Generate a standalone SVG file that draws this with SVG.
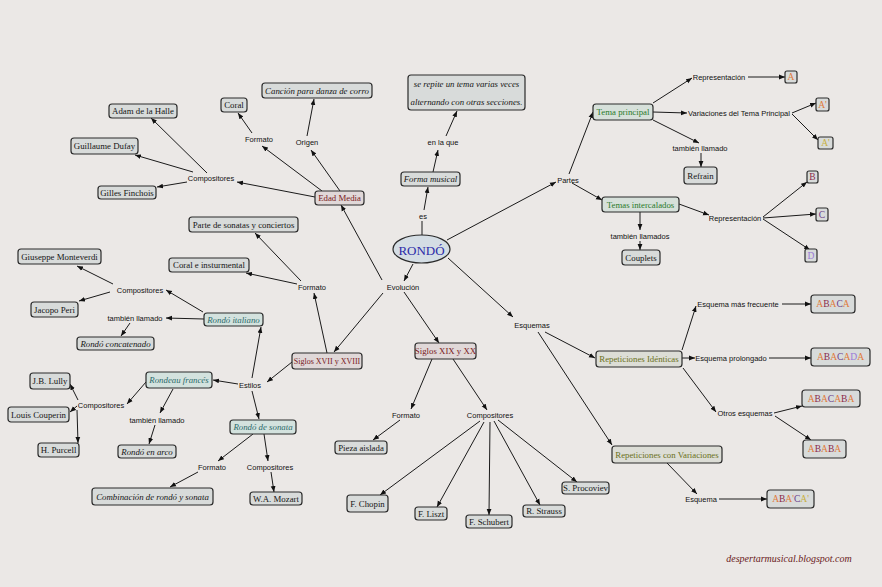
<svg xmlns="http://www.w3.org/2000/svg" width="882" height="587" viewBox="0 0 882 587">
<defs>
<marker id="a" viewBox="0 0 10 10" refX="10" refY="5" markerWidth="6" markerHeight="6" orient="auto" markerUnits="userSpaceOnUse"><path d="M0,1 L10,5 L0,9 z" fill="#111"/></marker>
<style>
.n rect{fill:#d8dbda;stroke:#2a2a2a;stroke-width:1.2}
.r rect{fill:#e0d8d8}
.tl rect{fill:#d3e2de}
.g rect{fill:#d6e0da}
.o rect{fill:#dcddd6}
.n text{font-family:"Liberation Serif",serif;font-size:8.8px;fill:#151515;text-anchor:middle;dominant-baseline:central}
.i text{font-style:italic}
.r text{fill:#7a1a22}
.tl text{fill:#2a6a6a}
.g text{fill:#2a7a2a}
.o text{fill:#6a7020}
.l text{font-family:"Liberation Sans",Arial,sans-serif;font-size:7.5px;fill:#111;text-anchor:middle;dominant-baseline:central}
.c path{fill:none;stroke:#1a1a1a;stroke-width:1}
.c .m{marker-end:url(#a)}
.n.sq text{font-size:9.5px}
.sq .cA{fill:#e07a3a}.sq .cB{fill:#8b2a4a}.sq .cC{fill:#6a3a8a}.sq .cD{fill:#9a7ad8}.sq .cY{fill:#c8b040}
</style>
</defs>
<rect width="882" height="587" fill="#ebe8e6"/>

<g id="connectors" class="c">
<path d="M422,235 L422,221"/>
<path class="m" d="M424,210 L428,187"/>
<path class="m" d="M433,172 L438,150"/>
<path class="m" d="M446,136 L457,111"/>
<path class="m" d="M340,191 L311,150"/>
<path class="m" d="M307,136 L314,99"/>
<path class="m" d="M322,191 L262,146"/>
<path class="m" d="M252,133 L238,113"/>
<path class="m" d="M315,197 L237,182"/>
<path class="m" d="M207,173 L151,118"/>
<path class="m" d="M193,172 L135,155"/>
<path class="m" d="M187,182 L157,187"/>
<path class="m" d="M413,264 L404,281"/>
<path class="m" d="M382,280 L341,205"/>
<path class="m" d="M383,293 L334,352"/>
<path class="m" d="M404,292 L439,343"/>
<path class="m" d="M327,353 L314,293"/>
<path class="m" d="M301,281 L255,233"/>
<path class="m" d="M297,284 L246,273"/>
<path class="m" d="M292,362 L267,382"/>
<path class="m" d="M252,378 L261,327"/>
<path class="m" d="M238,384 L213,380"/>
<path class="m" d="M252,391 L259,419"/>
<path class="m" d="M203,312 L166,290"/>
<path class="m" d="M113,284 L77,266"/>
<path class="m" d="M110,292 L79,301"/>
<path class="m" d="M204,319 L166,318"/>
<path class="m" d="M130,323 L121,336"/>
<path class="m" d="M146,382 L127,404"/>
<path class="m" d="M78,400 L70,384"/>
<path class="m" d="M77,406 L70,412"/>
<path class="m" d="M77,410 L78,443"/>
<path class="m" d="M173,389 L160,413"/>
<path class="m" d="M155,425 L149,444"/>
<path class="m" d="M253,434 L218,461"/>
<path class="m" d="M198,472 L170,487"/>
<path class="m" d="M264,434 L268,461"/>
<path class="m" d="M271,472 L274,492"/>
<path class="m" d="M432,359 L411,409"/>
<path class="m" d="M400,420 L373,440"/>
<path class="m" d="M453,359 L487,410"/>
<path class="m" d="M480,421 L380,495"/>
<path class="m" d="M484,422 L437,507"/>
<path class="m" d="M490,422 L489,515"/>
<path class="m" d="M494,421 L540,505"/>
<path class="m" d="M498,420 L577,482"/>
<path class="m" d="M448,258 L513,317"/>
<path class="m" d="M545,332 L595,358"/>
<path class="m" d="M538,332 L612,445"/>
<path class="m" d="M682,350 L696,306"/>
<path class="m" d="M782,304 L811,304"/>
<path class="m" d="M682,358 L695,358"/>
<path class="m" d="M769,358 L811,358"/>
<path class="m" d="M683,368 L716,412"/>
<path class="m" d="M774,413 L802,406"/>
<path class="m" d="M775,416 L811,440"/>
<path class="m" d="M667,463 L697,494"/>
<path class="m" d="M719,499 L767,499"/>
<path class="m" d="M447,240 L556,182"/>
<path class="m" d="M569,174 L593,112"/>
<path class="m" d="M572,183 L602,200"/>
<path class="m" d="M653,103 L692,78"/>
<path class="m" d="M748,77 L785,77"/>
<path class="m" d="M653,112 L687,113"/>
<path class="m" d="M792,113 L816,103"/>
<path class="m" d="M792,114 L818,140"/>
<path class="m" d="M653,120 L699,143"/>
<path class="m" d="M701,153 L701,167"/>
<path class="m" d="M679,204 L709,215"/>
<path class="m" d="M763,217 L807,182"/>
<path class="m" d="M763,218 L816,214"/>
<path class="m" d="M763,219 L810,250"/>
<path class="m" d="M640,212 L640,230"/>
<path class="m" d="M640,241 L640,250"/>
</g>

<g id="rondo"><ellipse cx="421.5" cy="249" rx="28.5" ry="14" fill="#d4dde4" stroke="#2a2a2a" stroke-width="1.2"/><text x="421.5" y="250" font-family="Liberation Serif,serif" font-size="13" fill="#2b2ba8" text-anchor="middle" dominant-baseline="central">RONDÓ</text></g>

<g id="forma-musical" class="n i"><rect x="401" y="172" width="59" height="14" rx="3"/><text x="430.5" y="179">Forma musical</text></g>
<g id="definicion" class="n i"><rect x="408" y="75" width="117" height="35" rx="3"/><text x="466.5" y="84">se repite un tema varias veces</text><text x="466.5" y="102">alternando con otras secciones.</text></g>
<g id="edad-media" class="n r"><rect x="315" y="191" width="49" height="14" rx="3"/><text x="339.5" y="198">Edad Media</text></g>
<g id="coral" class="n"><rect x="221" y="98" width="26" height="14" rx="3"/><text x="234" y="105">Coral</text></g>
<g id="cancion" class="n i"><rect x="262" y="83" width="110" height="15" rx="3"/><text x="317" y="90.5">Canción para danza de corro</text></g>
<g id="adam" class="n"><rect x="109" y="104" width="68" height="14" rx="3"/><text x="143" y="111">Adam de la Halle</text></g>
<g id="dufay" class="n"><rect x="71" y="138" width="67" height="16" rx="3"/><text x="104.5" y="146">Guillaume Dufay</text></g>
<g id="finchois" class="n"><rect x="98" y="186" width="58" height="13" rx="3"/><text x="127" y="192.5">Gilles Finchois</text></g>
<g id="siglos-xvii" class="n r"><rect x="292" y="353" width="70" height="16" rx="3"/><text x="327" y="361" style="font-size:8px">Siglos XVII y XVIII</text></g>
<g id="siglos-xix" class="n r"><rect x="415" y="343" width="61" height="16" rx="3"/><text x="445.5" y="351">Siglos XIX y XX</text></g>
<g id="parte-sonatas" class="n"><rect x="189" y="217" width="109" height="15" rx="3"/><text x="243.5" y="224.5">Parte de sonatas y conciertos</text></g>
<g id="coral-instr" class="n"><rect x="169" y="258" width="80" height="14" rx="3"/><text x="209" y="265">Coral e insturmental</text></g>
<g id="rondo-italiano" class="n tl i"><rect x="204" y="313" width="59" height="13" rx="3"/><text x="233.5" y="319.5">Rondó italiano</text></g>
<g id="rondeau-frances" class="n tl i"><rect x="146" y="372" width="66" height="16" rx="3"/><text x="179" y="380">Rondeau francés</text></g>
<g id="rondo-sonata" class="n tl i"><rect x="230" y="420" width="66" height="14" rx="3"/><text x="263" y="427">Rondó de sonata</text></g>
<g id="monteverdi" class="n"><rect x="18" y="249" width="83" height="15" rx="3"/><text x="59.5" y="256.5">Giuseppe Monteverdi</text></g>
<g id="peri" class="n"><rect x="31" y="302" width="47" height="15" rx="3"/><text x="54.5" y="309.5">Jacopo Peri</text></g>
<g id="concatenado" class="n i"><rect x="77" y="337" width="77" height="13" rx="3"/><text x="115.5" y="343.5">Rondó concatenado</text></g>
<g id="lully" class="n"><rect x="30" y="373" width="40" height="16" rx="3"/><text x="50" y="381">J.B. Lully</text></g>
<g id="couperin" class="n"><rect x="8" y="407" width="61" height="15" rx="3"/><text x="38.5" y="414.5">Louis Couperin</text></g>
<g id="purcell" class="n"><rect x="38" y="443" width="41" height="14" rx="3"/><text x="58.5" y="450">H. Purcell</text></g>
<g id="arco" class="n i"><rect x="118" y="445" width="58" height="13" rx="3"/><text x="147" y="451.5">Rondó en arco</text></g>
<g id="combinacion" class="n i"><rect x="92" y="488" width="121" height="17" rx="3"/><text x="152.5" y="496.5">Combinación de rondó y sonata</text></g>
<g id="mozart" class="n"><rect x="250" y="492" width="52" height="13" rx="3"/><text x="276" y="498.5">W.A. Mozart</text></g>
<g id="pieza" class="n"><rect x="335" y="441" width="52" height="13" rx="3"/><text x="361" y="447.5">Pieza aislada</text></g>
<g id="chopin" class="n"><rect x="347" y="495" width="41" height="17" rx="3"/><text x="367.5" y="503.5">F. Chopin</text></g>
<g id="liszt" class="n"><rect x="415" y="507" width="32" height="13" rx="3"/><text x="431" y="513.5">F. Liszt</text></g>
<g id="schubert" class="n"><rect x="466" y="515" width="46" height="13" rx="3"/><text x="489" y="521.5">F. Schubert</text></g>
<g id="strauss" class="n"><rect x="523" y="505" width="42" height="12" rx="3"/><text x="544" y="511">R. Strauss</text></g>
<g id="procoviev" class="n"><rect x="562" y="482" width="47" height="12" rx="3"/><text x="585.5" y="488">S. Procoviev</text></g>
<g id="rep-identicas" class="n o"><rect x="596" y="351" width="86" height="16" rx="3"/><text x="639" y="359">Repeticiones Idénticas</text></g>
<g id="rep-variaciones" class="n o"><rect x="612" y="446" width="110" height="17" rx="3"/><text x="667" y="454.5">Repeticiones con Variaciones</text></g>
<g id="tema-principal" class="n g"><rect x="593" y="104" width="60" height="16" rx="3"/><text x="623" y="112">Tema principal</text></g>
<g id="temas-intercalados" class="n g"><rect x="602" y="197" width="77" height="15" rx="3"/><text x="640.5" y="204.5">Temas intercalados</text></g>
<g id="refrain" class="n"><rect x="684" y="167" width="33" height="17" rx="3"/><text x="700.5" y="175.5">Refrain</text></g>
<g id="couplets" class="n"><rect x="622" y="250" width="38" height="15" rx="3"/><text x="641" y="257.5">Couplets</text></g>

<g id="sq-a" class="n sq"><rect x="785" y="71" width="12" height="12" rx="2"/><text x="791" y="77"><tspan class="cA">A</tspan></text></g>
<g id="sq-a1" class="n sq"><rect x="816" y="98" width="13" height="13" rx="2"/><text x="822.5" y="104.5"><tspan class="cA">A'</tspan></text></g>
<g id="sq-a2" class="n sq"><rect x="818" y="137" width="15" height="12" rx="2"/><text x="825.5" y="143"><tspan class="cY">A'</tspan></text></g>
<g id="sq-b" class="n sq"><rect x="807" y="171" width="11" height="12" rx="2"/><text x="812.5" y="177"><tspan class="cB">B</tspan></text></g>
<g id="sq-c" class="n sq"><rect x="816" y="208" width="12" height="13" rx="2"/><text x="822" y="214.5"><tspan class="cC">C</tspan></text></g>
<g id="sq-d" class="n sq"><rect x="805" y="249" width="12" height="13" rx="2"/><text x="811" y="255.5"><tspan class="cD">D</tspan></text></g>
<g id="sq-abaca" class="n sq"><rect x="811" y="295" width="44" height="18" rx="3"/><text x="833" y="304"><tspan class="cA">A</tspan><tspan class="cB">B</tspan><tspan class="cA">A</tspan><tspan class="cC">C</tspan><tspan class="cA">A</tspan></text></g>
<g id="sq-abacada" class="n sq"><rect x="811" y="348" width="59" height="18" rx="3"/><text x="840.5" y="357"><tspan class="cA">A</tspan><tspan class="cB">B</tspan><tspan class="cA">A</tspan><tspan class="cC">C</tspan><tspan class="cA">A</tspan><tspan class="cD">D</tspan><tspan class="cA">A</tspan></text></g>
<g id="sq-abacaba" class="n sq"><rect x="802" y="390" width="58" height="17" rx="3"/><text x="831" y="398.5"><tspan class="cA">A</tspan><tspan class="cB">B</tspan><tspan class="cA">A</tspan><tspan class="cC">C</tspan><tspan class="cA">A</tspan><tspan class="cB">B</tspan><tspan class="cA">A</tspan></text></g>
<g id="sq-ababa" class="n sq"><rect x="803" y="440" width="43" height="18" rx="3"/><text x="824.5" y="449"><tspan class="cA">A</tspan><tspan class="cB">B</tspan><tspan class="cA">A</tspan><tspan class="cB">B</tspan><tspan class="cA">A</tspan></text></g>
<g id="sq-aba1ca1" class="n sq"><rect x="767" y="490" width="47" height="18" rx="3"/><text x="790.5" y="499"><tspan class="cA">A</tspan><tspan class="cB">B</tspan><tspan class="cA">A'</tspan><tspan class="cC">C</tspan><tspan class="cY">A'</tspan></text></g>

<g class="l">
<g id="l-es"><text x="423" y="216">es</text></g>
<g id="l-enlaque"><text x="443" y="142">en la que</text></g>
<g id="l-origen"><text x="307" y="142">Origen</text></g>
<g id="l-formato1"><text x="259" y="139">Formato</text></g>
<g id="l-comp1"><text x="211" y="178">Compositores</text></g>
<g id="l-evolucion"><text x="403" y="287">Evolución</text></g>
<g id="l-formato2"><text x="312" y="287">Formato</text></g>
<g id="l-estilos"><text x="250" y="385">Estilos</text></g>
<g id="l-comp2"><text x="140" y="290">Compositores</text></g>
<g id="l-tl1"><text x="135" y="318">también llamado</text></g>
<g id="l-comp3"><text x="101" y="405">Compositores</text></g>
<g id="l-tl2"><text x="157" y="420">también llamado</text></g>
<g id="l-formato3"><text x="212" y="467">Formato</text></g>
<g id="l-comp4"><text x="270" y="467">Compositores</text></g>
<g id="l-formato4"><text x="406" y="415">Formato</text></g>
<g id="l-comp5"><text x="490" y="415">Compositores</text></g>
<g id="l-esquemas"><text x="532" y="325">Esquemas</text></g>
<g id="l-masfrec"><text x="738" y="304">Esquema más frecuente</text></g>
<g id="l-prolongado"><text x="731" y="358">Esquema prolongado</text></g>
<g id="l-otros"><text x="745" y="413">Otros esquemas</text></g>
<g id="l-esquema"><text x="701" y="499">Esquema</text></g>
<g id="l-partes"><text x="568" y="180">Partes</text></g>
<g id="l-repr1"><text x="719" y="77">Representación</text></g>
<g id="l-variaciones"><text x="739" y="113">Variaciones del Tema Principal</text></g>
<g id="l-tl3"><text x="700" y="148">también llamado</text></g>
<g id="l-repr2"><text x="735" y="218">Representación</text></g>
<g id="l-tl4"><text x="640" y="236">también llamados</text></g>
</g>

<text x="789" y="558" font-family="Liberation Serif,serif" font-style="italic" font-size="10" fill="#6a1a1a" text-anchor="middle" dominant-baseline="central">despertarmusical.blogspot.com</text>
</svg>
